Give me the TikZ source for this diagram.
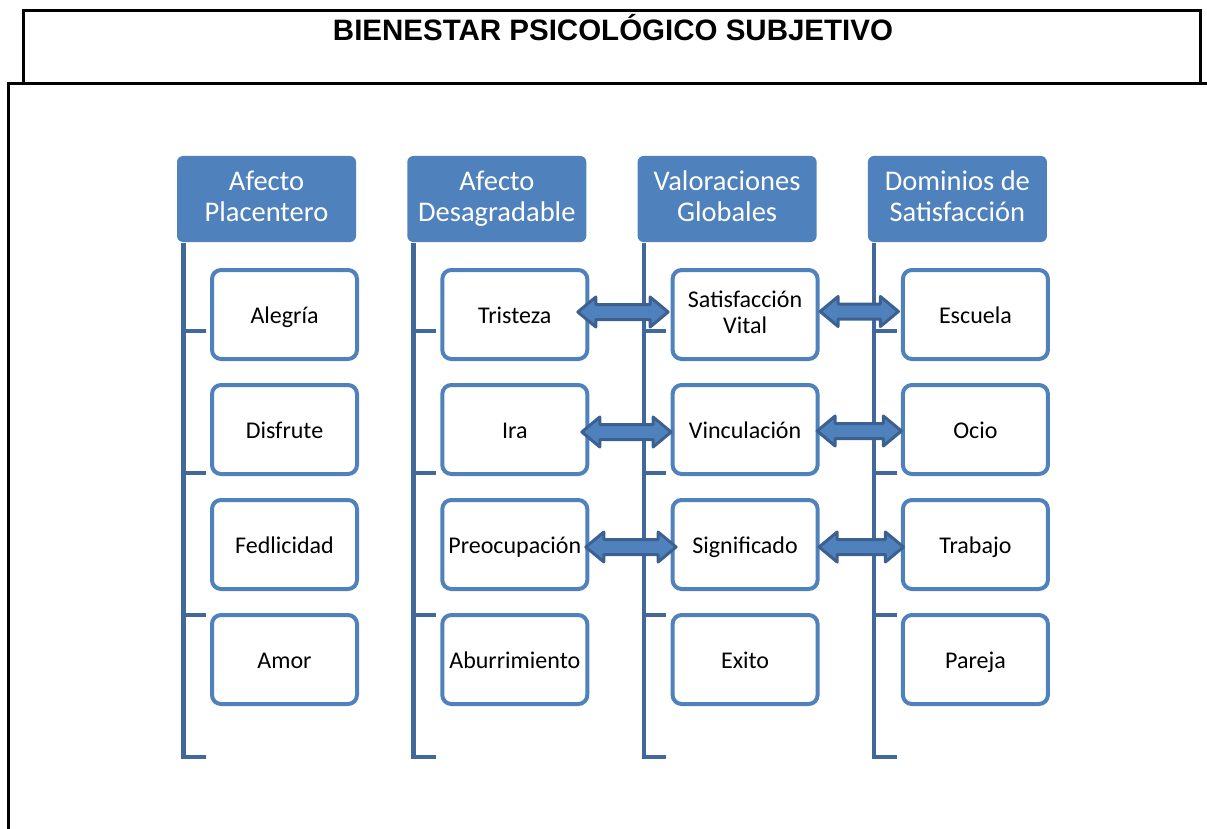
\documentclass[tikz,border=0pt]{standalone}
\usepackage{fontspec}
\setmainfont{Carlito}
\newfontfamily\titlefont{Liberation Sans}
\usetikzlibrary{calc}
\definecolor{acc}{RGB}{79,129,189}
\definecolor{linec}{RGB}{65,103,155}
\definecolor{arrowb}{RGB}{60,97,145}
\newcommand\topph{\rule{0pt}{\dimexpr0.71em+5.5pt\relax}}
\newcommand\botph{\vphantom{g}}
\newcommand\dblarrow[5]{%
  \path[dbl] let \p1=($(#1.east)+(#3+1.5,#5)$), \p2=($(#2.west)+(#4-1.5,#5)$) in
    (\x1,\y1) -- (\x1+18pt,\y1+15pt) -- (\x1+18pt,\y1+7.5pt) -- (\x2-18pt,\y1+7.5pt)
    -- (\x2-18pt,\y1+15pt) -- (\x2,\y1) -- (\x2-18pt,\y1-15pt) -- (\x2-18pt,\y1-7.5pt)
    -- (\x1+18pt,\y1-7.5pt) -- (\x1+18pt,\y1-15pt) -- cycle;}
\begin{document}
\begin{tikzpicture}[x=1pt,y=-1pt,
  hdr/.style={rectangle, rounded corners=6, fill=acc, text=white, minimum width=179,
    minimum height=86, inner sep=0, align=center, font=\fontsize{28.5}{31}\selectfont,
    execute at begin node=\topph, execute at end node=\botph},
  item/.style={rectangle, rounded corners=9, draw=acc, line width=4, fill=white,
    minimum width=145, minimum height=89, inner sep=0, align=center,
    font=\fontsize{24}{26}\selectfont,
    execute at begin node=\topph, execute at end node=\botph},
  bracket/.style={draw=linec, line width=4.5},
  dbl/.style={fill=acc, draw=arrowb, line width=3, line join=round},
  frame/.style={draw=black, line width=3}]
\useasboundingbox (0,0) rectangle (1207,829);
% frames
\draw[frame] (23.5,10.7) rectangle (1200,83.3);
\draw[frame] (8.7,840) -- (8.7,83.3) -- (1210,83.3);
\node[anchor=base, font=\titlefont\bfseries\fontsize{29.5}{31}\selectfont] (title) at (613,41) {BIENESTAR PSICOLÓGICO SUBJETIVO};
% headers
\node[hdr] (h1) at (266.5,199) {Afecto\\Placentero};
\node[hdr] (h2) at (496.8,199) {Afecto\\Desagradable};
\node[hdr] (h3) at (727.1,199) {Valoraciones\\Globales};
\node[hdr] (h4) at (957.4,199) {Dominios de\\Satisfacción};
% brackets
\foreach \h in {h1,h2,h3,h4} {
  \draw[bracket] ($(\h.south west)+(6.5,1)$) -- ++(0,514) -- ++(22.5,0);
  \foreach \ty in {89,231,373}
    \draw[bracket] ($(\h.south west)+(6.5,\ty)$) -- ++(22.5,0);
}
% items
\node[item] (a1) at (284.5,314.5) {Alegría};
\node[item] (a2) at (284.5,429.5) {Disfrute};
\node[item] (a3) at (284.5,544.5) {Fedlicidad};
\node[item] (a4) at (284.5,659.5) {Amor};
\node[item] (d1) at (514.8,314.5) {Tristeza};
\node[item] (d2) at (514.8,429.5) {Ira};
\node[item] (d3) at (514.8,544.5) {Preocupación};
\node[item] (d4) at (514.8,659.5) {Aburrimiento};
\node[item] (v1) at (745.1,314.5) {Satisfacción\\Vital};
\node[item] (v2) at (745.1,429.5) {Vinculación};
\node[item] (v3) at (745.1,544.5) {Significado};
\node[item] (v4) at (745.1,659.5) {Exito};
\node[item] (s1) at (975.4,314.5) {Escuela};
\node[item] (s2) at (975.4,429.5) {Ocio};
\node[item] (s3) at (975.4,544.5) {Trabajo};
\node[item] (s4) at (975.4,659.5) {Pareja};
% double arrows
\dblarrow{d1}{v1}{-13}{-1}{-2.5}
\dblarrow{d2}{v2}{-9}{2}{2.5}
\dblarrow{d3}{v3}{-5}{7}{2.5}
\dblarrow{v1}{s1}{-1}{-1}{-3}
\dblarrow{v2}{s2}{-4}{2}{1.5}
\dblarrow{v3}{s3}{-2}{4}{2.5}
\end{tikzpicture}
\end{document}
